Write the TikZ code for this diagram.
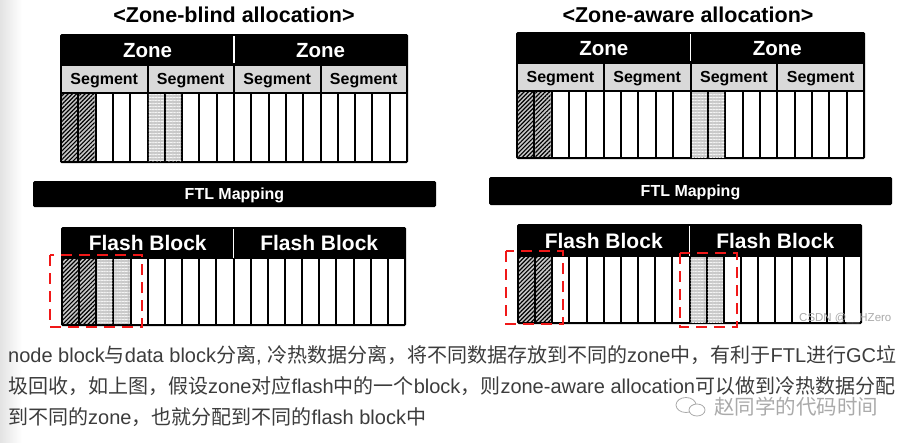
\documentclass[tikz,border=0pt]{standalone}
\usepackage{fontspec}
\setmainfont{Liberation Sans}
\newfontfamily\cjk{Noto Sans CJK SC}
\usetikzlibrary{patterns.meta}
\definecolor{segGray}{RGB}{217,217,217}
\definecolor{txtGray}{RGB}{60,60,60}
\definecolor{dashRed}{RGB}{240,24,24}
\definecolor{wmGray}{RGB}{170,170,170}

\tikzset{
  titletext/.style={font=\bfseries\fontsize{21.5}{24}\selectfont, inner sep=0pt, anchor=base},
  hdrtext/.style={text=white, font=\bfseries\fontsize{20.5}{22}\selectfont, inner sep=0pt, anchor=base},
  segtext/.style={text=black, font=\bfseries\fontsize{16}{18}\selectfont, inner sep=0pt, anchor=base},
  ftltext/.style={text=white, font=\bfseries\fontsize{16}{18}\selectfont, inner sep=0pt, anchor=base},
  flashtext/.style={text=white, font=\bfseries\fontsize{21}{24}\selectfont, inner sep=0pt, anchor=base},
  bodytext/.style={text=txtGray, font=\fontsize{20}{24}\selectfont, inner sep=0pt, anchor=base west},
  darkcell/.style={fill=gray!45, postaction={pattern={Lines[angle=45,distance=3pt,line width=1.2pt]}, pattern color=black}},
  lightcell/.style={fill=gray!42,
    postaction={pattern={Lines[angle=0,distance=3pt,line width=0.6pt]}, pattern color=gray!8},
    postaction={pattern={Lines[angle=90,distance=4pt,line width=0.5pt]}, pattern color=gray!60}},
  hotbox/.style={draw=dashRed, line width=2.6pt, dash pattern=on 11pt off 7pt},
  blackbar/.style={fill=black, rounded corners=1.5pt},
}

% x0 x1 y0 y1 y2 y3 prefix
\newcommand\zonepanel[7]{%
  \fill[blackbar] ({#1-1},#3) rectangle ({#2+1},{#6+1});
  \foreach \s in {0,1,2,3}{%
    \fill[segGray] ({#1+(#2-#1)*\s/4+1},{#4+1.2}) rectangle ({#1+(#2-#1)*(\s+1)/4-1},{#5-1.2});
    \node[segtext] (#7seg\s) at ({#1+(#2-#1)*(\s+0.5)/4},{(#4+#5)/2+5.8}) {Segment};
  }
  \draw[white, line width=1.8pt] ({(#1+#2)/2},{#3+2}) -- ({(#1+#2)/2},{#4-2});
  \foreach \i in {0,...,19}{%
    \fill[white] ({#1+(#2-#1)*\i/20+1},{#5+1}) rectangle ({#1+(#2-#1)*(\i+1)/20-1},{#6-1});
  }
  \node[hdrtext] (#7zoneA) at ({#1+(#2-#1)/4},{(#3+#4)/2+7.6}) {Zone};
  \node[hdrtext] (#7zoneB) at ({#1+3*(#2-#1)/4},{(#3+#4)/2+7.6}) {Zone};
}
% x0 x1 y0 y1 y3 prefix
\newcommand\flashpanel[6]{%
  \fill[blackbar] ({#1-1},#3) rectangle ({#2+1},{#5+1});
  \draw[white, line width=1.8pt] ({(#1+#2)/2},{#3+1.5}) -- ({(#1+#2)/2},{#4});
  \foreach \i in {0,...,19}{%
    \fill[white] ({#1+(#2-#1)*\i/20+1},{#4+1}) rectangle ({#1+(#2-#1)*(\i+1)/20-1},{#5-1});
  }
  \node[flashtext] (#6fbA) at ({#1+(#2-#1)/4},{(#3+#4)/2+8}) {Flash Block};
  \node[flashtext] (#6fbB) at ({#1+3*(#2-#1)/4},{(#3+#4)/2+8}) {Flash Block};
}
% x0 x1 ytop ybot index style
\newcommand\paintcell[6]{%
  \path[#6] ({#1+(#2-#1)*#5/20+1},{#3+1}) rectangle ({#1+(#2-#1)*(#5+1)/20-1},{#4-1});
}

\begin{document}
\begin{tikzpicture}[x=1pt,y=-1pt]
\useasboundingbox (0,0) rectangle (917,442);
\fill[white] (0,0) rectangle (917,442);
\shade[left color=gray!22, right color=white] (0,0) rectangle (22,442);

% ---------- titles ----------
\node[titletext] (titleL) at (234,22) {<Zone-blind allocation>};
\node[titletext] (titleR) at (688,22) {<Zone-aware allocation>};

% ---------- zone panels ----------
\zonepanel{61}{407}{34}{65}{93}{162}{L}
\zonepanel{517}{864}{32}{63}{91}{158}{R}
\foreach \k in {0,1}{\paintcell{61}{407}{93}{162}{\k}{darkcell}}
\foreach \k in {5,6}{\paintcell{61}{407}{93}{162}{\k}{lightcell}}
\foreach \k in {0,1}{\paintcell{517}{864}{91}{158}{\k}{darkcell}}
\foreach \k in {10,11}{\paintcell{517}{864}{91}{158}{\k}{lightcell}}

% ---------- FTL mapping ----------
\fill[blackbar] (33,181) rectangle (436,207);
\node[ftltext] (ftlL) at (234.5,199.8) {FTL Mapping};
\fill[blackbar] (489,177) rectangle (892,205);
\node[ftltext] (ftlR) at (690.5,196.8) {FTL Mapping};

% ---------- flash panels ----------
\flashpanel{62}{405}{227}{258}{325}{LF}
\flashpanel{518}{861}{224}{256}{323}{RF}
\foreach \k in {0,1}{\paintcell{62}{405}{258}{325}{\k}{darkcell}}
\foreach \k in {2,3}{\paintcell{62}{405}{258}{325}{\k}{lightcell}}
\foreach \k in {0,1}{\paintcell{518}{861}{256}{323}{\k}{darkcell}}
\foreach \k in {10,11}{\paintcell{518}{861}{256}{323}{\k}{lightcell}}

% ---------- dashed highlight boxes ----------
\draw[hotbox] (50,255) rectangle (142,327);
\draw[hotbox] (506,251) rectangle (563,324);
\draw[hotbox] (680,253) rectangle (737,327);

% ---------- watermark (image) ----------
\node[font=\fontsize{11.5}{12}\selectfont, text=wmGray, anchor=base west, inner sep=0pt] (csdn) at (799,321) {CSDN @\_\_HZero};

% ---------- body text ----------
\node[bodytext] (line1) at (8,362) {node block{\cjk 与}data block{\cjk 分离}, {\cjk 冷热数据分离，将不同数据存放到不同的}zone{\cjk 中，有利于}FTL{\cjk 进行}GC{\cjk 垃}};
\node[bodytext] (line2) at (8,393) {{\cjk 圾回收，如上图，假设}zone{\cjk 对应}flash{\cjk 中的一个}block{\cjk ，则}zone-aware allocation{\cjk 可以做到冷热数据分配}};
\node[bodytext] (line3) at (8,424) {{\cjk 到不同的}zone{\cjk ，也就分配到不同的}flash block{\cjk 中}};

% ---------- watermark (article) ----------
\draw[wmGray, line width=0.8pt] (686,405) ellipse [x radius=10, y radius=7.5];
\draw[wmGray, line width=0.8pt, fill=white] (697,410) ellipse [x radius=8, y radius=6];
\node[font=\cjk\fontsize{20.5}{24}\selectfont, text=wmGray, anchor=base west, inner sep=0pt] (wm) at (714,414) {赵同学的代码时间};
\end{tikzpicture}
\end{document}
